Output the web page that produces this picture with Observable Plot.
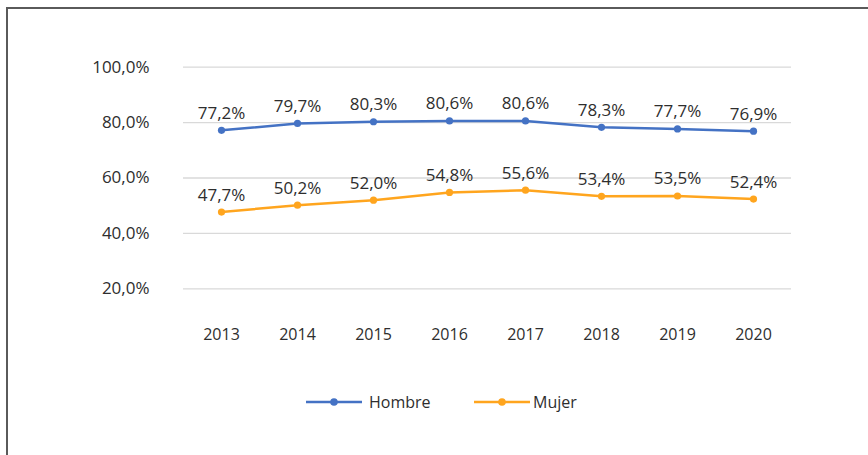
<!DOCTYPE html>
<html>
<head>
<meta charset="utf-8">
<script src="https://cdn.jsdelivr.net/npm/d3@7"></script>
<script src="https://cdn.jsdelivr.net/npm/@observablehq/plot@0.6"></script>
<style>
  html, body { margin: 0; padding: 0; background: #fff; }
  #wrap { position: relative; width: 868px; height: 455px; overflow: hidden; background: #fff; font-family: "Open Sans", sans-serif; color: #2e2e2e; }
  #frame { position: absolute; left: 6px; top: 7px; width: 1000px; height: 1000px; border-left: 2px solid #5a5a5a; border-top: 2px solid #5a5a5a; box-sizing: border-box; }
  #chart { position: absolute; left: 0; top: 0; }
</style>
</head>
<body>
<div id="wrap">
  <div id="frame"></div>
  <div id="chart"></div>
</div>
<script>
const years = [2013, 2014, 2015, 2016, 2017, 2018, 2019, 2020];
const hombre = [77.2, 79.7, 80.3, 80.6, 80.6, 78.3, 77.7, 76.9];
const mujer = [47.7, 50.2, 52.0, 54.8, 55.6, 53.4, 53.5, 52.4];
const series = ["Hombre", "Mujer"];
const colors = ["#4472C4", "#FFA51E"];
const yTicks = [20, 40, 60, 80, 100];

const fmt = d => d.toFixed(1).replace(".", ",") + "%";
const textColor = "#2e2e2e";

const data = years.flatMap((yr, i) => [
  {year: yr, serie: "Hombre", v: hombre[i]},
  {year: yr, serie: "Mujer", v: mujer[i]}
]);

const H = 360;
const chart = Plot.plot({
  width: 868,
  height: H,
  marginLeft: 183,
  marginRight: 77,
  marginTop: 66.7,
  marginBottom: H - 288.3,
  x: {type: "point", domain: years, padding: 0.5, label: null},
  y: {domain: [20, 100], label: null},
  color: {domain: series, range: colors},
  style: {fontFamily: "Open Sans, sans-serif", fontSize: "17px", color: textColor, background: "transparent"},
  marks: [
    Plot.gridY(yTicks, {stroke: "#d9d9d9", strokeOpacity: 1, strokeWidth: 1.3}),
    Plot.axisY(yTicks, {tickSize: 0, tickPadding: 34, tickFormat: fmt, fontSize: 17, label: null}),
    Plot.axisX({tickSize: 0, tickPadding: 40, tickFormat: d => String(d), fontSize: 16, label: null}),
    Plot.line(data, {x: "year", y: "v", z: "serie", stroke: "serie", strokeWidth: 2.5}),
    Plot.dot(data, {x: "year", y: "v", fill: "serie", r: 3.6}),
    Plot.text(data, {x: "year", y: "v", text: d => fmt(d.v), dy: -17, fontSize: 17, fill: textColor})
  ]
});
document.getElementById("chart").appendChild(chart);

// Legend
const legendPos = [{lineX: 306, textX: 369}, {lineX: 474, textX: 533}];
const wrap = document.getElementById("wrap");
series.forEach((s, i) => {
  const ns = "http://www.w3.org/2000/svg";
  const sw = document.createElementNS(ns, "svg");
  sw.setAttribute("width", 56);
  sw.setAttribute("height", 12);
  sw.style.position = "absolute";
  sw.style.left = legendPos[i].lineX + "px";
  sw.style.top = "396px";
  const ln = document.createElementNS(ns, "line");
  ln.setAttribute("x1", 0); ln.setAttribute("x2", 56);
  ln.setAttribute("y1", 6); ln.setAttribute("y2", 6);
  ln.setAttribute("stroke", colors[i]); ln.setAttribute("stroke-width", 2.5);
  const c = document.createElementNS(ns, "circle");
  c.setAttribute("cx", 28); c.setAttribute("cy", 6); c.setAttribute("r", 3.8);
  c.setAttribute("fill", colors[i]);
  sw.appendChild(ln); sw.appendChild(c);
  wrap.appendChild(sw);
  const t = document.createElement("div");
  t.textContent = s;
  t.style.position = "absolute";
  t.style.left = legendPos[i].textX + "px";
  t.style.top = "390px";
  t.style.fontSize = "16px";
  t.style.lineHeight = "24px";
  t.style.color = textColor;
  wrap.appendChild(t);
});
</script>
</body>
</html>
